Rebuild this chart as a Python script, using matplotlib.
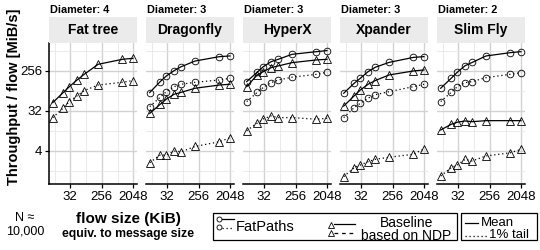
import matplotlib
matplotlib.use('Agg')
import matplotlib.pyplot as plt
from matplotlib.patches import Rectangle
from matplotlib.ticker import NullFormatter, FixedLocator

plt.rcParams['font.family'] = ['Liberation Sans', 'DejaVu Sans']

# ---------------- data ----------------
flow_sizes = [10, 20, 30, 50, 80, 200, 1000, 2000]
topologies = ['Fat tree', 'Dragonfly', 'HyperX', 'Xpander', 'Slim Fly']
diameters = [4, 3, 3, 3, 2]
x_ticks = [32, 256, 2048]
x_tick_labels = ['32', '256', '2048']
y_ticks = [4, 32, 256]
y_tick_labels = ['4', '32', '256']

fattree_base_mean = [49, 83, 113, 160, 215, 362, 470, 495]
fattree_base_tail = [22.5, 37, 52, 70, 92, 123, 142, 155]

dragonfly_fp_mean = [83, 147, 197, 260, 320, 430, 540, 560]
dragonfly_fp_tail = [40, 65, 87, 113, 128, 142, 160, 175]
dragonfly_base_mean = [28, 45, 59, 76, 84, 104, 123, 128]
dragonfly_base_tail = [2.15, 3.2, 3.2, 3.95, 3.8, 5.0, 6.4, 7.9]

hyperx_fp_mean = [147, 240, 320, 415, 470, 610, 700, 740]
hyperx_fp_tail = [52, 84, 109, 139, 160, 185, 215, 240]
hyperx_base_mean = [113, 208, 247, 304, 333, 395, 455, 470]
hyperx_base_tail = [11.4, 16.8, 21, 24.6, 22.5, 22.5, 20.7, 21.7]

xpander_fp_mean = [80, 135, 175, 247, 310, 400, 520, 540]
xpander_fp_tail = [22.5, 38, 47.5, 62, 74, 87, 113, 128]
xpander_base_mean = [41, 70, 95, 128, 155, 208, 256, 270]
xpander_base_tail = [1.04, 1.66, 1.9, 2.26, 2.56, 2.85, 3.34, 4.4]

slimfly_fp_mean = [104, 175, 240, 337, 400, 560, 665, 700]
slimfly_fp_tail = [52, 84, 113, 139, 147, 181, 215, 234]
slimfly_base_mean = [11.8, 15.9, 17.7, 18.9, 18.2, 19.2, 19.2, 19.2]
slimfly_base_tail = [1.07, 1.66, 1.9, 2.56, 2.35, 3.05, 3.6, 4.3]

panels = [
    (None, None, fattree_base_mean, fattree_base_tail),
    (dragonfly_fp_mean, dragonfly_fp_tail, dragonfly_base_mean, dragonfly_base_tail),
    (hyperx_fp_mean, hyperx_fp_tail, hyperx_base_mean, hyperx_base_tail),
    (xpander_fp_mean, xpander_fp_tail, xpander_base_mean, xpander_base_tail),
    (slimfly_fp_mean, slimfly_fp_tail, slimfly_base_mean, slimfly_base_tail),
]

# ---------------- layout ----------------
W, H = 540, 250
fig = plt.figure(figsize=(W / 100, H / 100), dpi=100)

panel_left = [49, 146, 243, 340, 437]
panel_w = 88
panel_top, panel_bot = 43.3, 184
strip_top = 16.7

dotted = (0, (1, 2.2))
line_kw = dict(color='black', lw=0.9)
circ_kw = dict(marker='o', ms=4.8, mfc='none', mec='black', mew=0.6)
tri_kw = dict(marker='^', ms=5.2, mfc='none', mec='black', mew=0.6)

for i, (name, diam, series) in enumerate(zip(topologies, diameters, panels)):
    left = panel_left[i]
    ax = fig.add_axes([left / W, 1 - panel_bot / H, panel_w / W, (panel_bot - panel_top) / H])
    ax.set_xscale('log', base=2)
    ax.set_yscale('log', base=2)
    ax.set_xlim(2 ** 2.97, 2 ** 11.35)
    ax.set_ylim(2 ** -0.5, 2 ** 10.08)
    ax.set_axisbelow(True)

    ax.xaxis.set_major_locator(FixedLocator(x_ticks))
    ax.set_xticklabels(x_tick_labels)
    ax.xaxis.set_minor_locator(FixedLocator([2 ** 3.5, 2 ** 6.5, 2 ** 9.5]))
    ax.xaxis.set_minor_formatter(NullFormatter())
    ax.yaxis.set_major_locator(FixedLocator(y_ticks))
    ax.set_yticklabels(y_tick_labels)
    ax.yaxis.set_minor_locator(FixedLocator([2 ** 0.5, 2 ** 3.5, 2 ** 6.5, 2 ** 9.5]))
    ax.yaxis.set_minor_formatter(NullFormatter())

    ax.grid(which='major', color='#d2d2d2', lw=1.0)
    ax.grid(which='minor', color='#e6e6e6', lw=0.6)

    for s in ['top', 'right']:
        ax.spines[s].set_visible(False)
    ax.spines['bottom'].set_color('black')
    ax.spines['bottom'].set_linewidth(1.1)
    ax.tick_params(axis='x', which='major', direction='out', length=3, width=0.9,
                   labelsize=9.5, pad=2, colors='black')
    ax.tick_params(axis='x', which='minor', length=0)
    ax.tick_params(axis='y', which='minor', length=0)
    if i == 0:
        ax.spines['left'].set_color('black')
        ax.spines['left'].set_linewidth(1.1)
        ax.tick_params(axis='y', which='major', direction='out', length=3, width=0.9,
                       labelsize=9.5, pad=2, colors='black')
    else:
        ax.spines['left'].set_visible(False)
        ax.tick_params(axis='y', which='major', length=0, labelleft=False)

    fp_mean, fp_tail, b_mean, b_tail = series
    if fp_mean is not None:
        ax.plot(flow_sizes, fp_mean, ls='-', **line_kw, **circ_kw)
        ax.plot(flow_sizes, fp_tail, ls=dotted, **line_kw, **circ_kw)
    ax.plot(flow_sizes, b_mean, ls='-', **line_kw, **tri_kw)
    ax.plot(flow_sizes, b_tail, ls=dotted, **line_kw, **tri_kw)
    for ln in ax.lines:
        ln.set_clip_on(False)

    # strip
    sax = fig.add_axes([left / W, 1 - panel_top / H, panel_w / W, (panel_top - strip_top) / H])
    sax.set_facecolor('#ebebeb')
    sax.set_xticks([]); sax.set_yticks([])
    for s in sax.spines.values():
        s.set_visible(False)
    sax.text(0.5, 0.5, name, ha='center', va='center', fontsize=10, fontweight='bold',
             transform=sax.transAxes)
    fig.text((left + 1) / W, 1 - 10 / H, f'Diameter: {diam}', ha='left', va='center',
             fontsize=7.8, fontweight='bold')

# axis titles
fig.text(14 / W, 1 - 97 / H, 'Throughput / flow [MiB/s]', rotation=90, ha='center',
         va='center', fontsize=10.5, fontweight='bold')
fig.text(128 / W, 1 - 218.5 / H, 'flow size (KiB)', ha='center', va='center',
         fontsize=11, fontweight='bold')
fig.text(128 / W, 1 - 234 / H, 'equiv. to message size', ha='center', va='center',
         fontsize=8.8, fontweight='bold')
fig.text(25 / W, 1 - 218 / H, 'N ≈', ha='center', va='center', fontsize=9)
fig.text(25 / W, 1 - 231.5 / H, '10,000', ha='center', va='center', fontsize=9)

# legend overlay (pixel coordinates)
ov = fig.add_axes([0, 0, 1, 1], facecolor='none')
ov.set_xlim(0, W)
ov.set_ylim(H, 0)
ov.axis('off')
ov.add_patch(Rectangle((213, 213), 244, 27, fill=False, ec='black', lw=0.9))
ov.add_patch(Rectangle((461, 213), 76, 27, fill=False, ec='black', lw=0.9))

lk = dict(color='black', lw=0.9)
ov.plot([222, 234], [218.5, 218.5], ls='-', **lk)
ov.plot([218.5], [219.3], ls='none', marker='o', ms=3.6, mfc='none', mec='black', mew=0.6)
ov.plot([222, 234], [228, 228], ls=dotted, **lk)
ov.plot([218.5], [226.7], ls='none', marker='o', ms=3.6, mfc='none', mec='black', mew=0.6)
ov.text(236, 227.3, 'FatPaths', ha='left', va='center', fontsize=10.5)

ov.plot([334, 355], [224, 224], ls='-', **lk)
ov.plot([330.5], [225.3], ls='none', marker='^', ms=4, mfc='none', mec='black', mew=0.6)
ov.plot([334, 355], [232.7, 232.7], ls=(0, (3, 3)), **lk)
ov.plot([330.5], [233.3], ls='none', marker='^', ms=4, mfc='none', mec='black', mew=0.6)
ov.text(406.5, 229.5, 'Baseline\nbased on NDP', ha='center', va='center',
        multialignment='center', fontsize=10, linespacing=0.95)

ov.plot([465, 478], [223.3, 223.3], ls='-', **lk)
ov.text(481, 223, 'Mean', ha='left', va='center', fontsize=9.5)
ov.plot([465, 487], [236, 236], ls=dotted, **lk)
ov.text(489, 235.5, '1% tail', ha='left', va='center', fontsize=9.5)

fig.savefig('out.png', dpi=100)
